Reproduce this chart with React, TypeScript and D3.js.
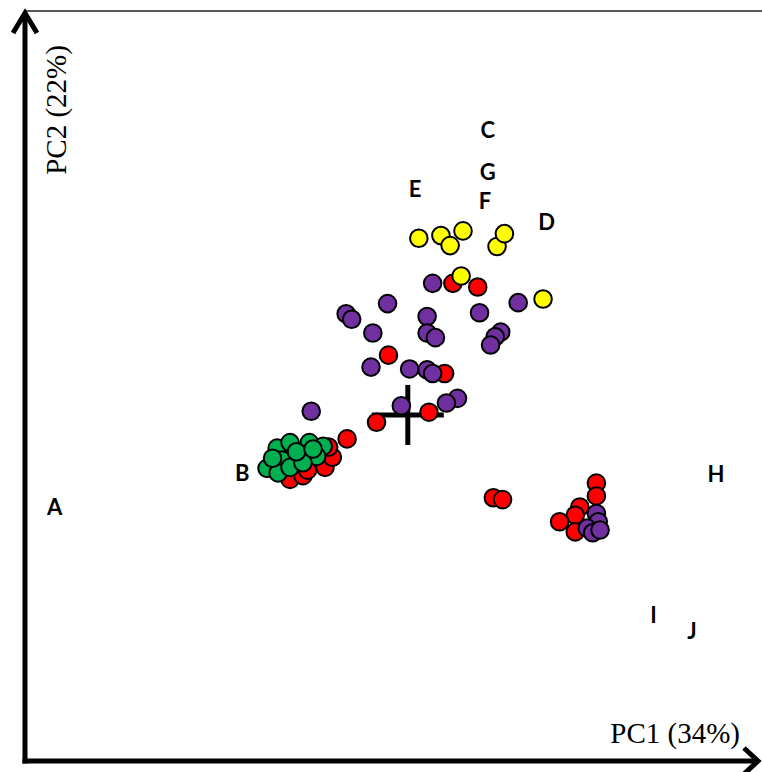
import React, { useEffect, useRef } from "react";
import * as d3 from "d3";

// PCA scores (PC1, PC2) per group
const redPC1 = [0.49, 0.76, -0.21, 0.4, 0.23, -0.34, -0.66, -1.28, -1.14, -0.9, -0.82, -1.09, -0.86, 0.93, 1.03, 2.05, 2.05, 1.87, 1.82, 1.65, 1.82];
const redPC2 = [1.43, 1.39, 0.65, 0.45, 0.03, -0.08, -0.26, -0.7, -0.66, -0.57, -0.46, -0.6, -0.35, -0.9, -0.92, -0.74, -0.88, -1.0, -1.09, -1.16, -1.27];

const purplePC1 = [0.27, 1.2, 0.78, -0.22, -0.67, -0.61, 0.21, -0.38, 0.21, 0.3, 1.01, 0.95, 0.9, -0.4, 0.02, 0.21, 0.27, 0.54, 0.42, -0.07, -1.05, 2.05, 2.07, 1.95, 2.01, 2.09];
const purplePC2 = [1.43, 1.22, 1.11, 1.21, 1.1, 1.04, 1.07, 0.89, 0.89, 0.84, 0.9, 0.85, 0.76, 0.52, 0.5, 0.49, 0.45, 0.18, 0.13, 0.1, 0.04, -1.07, -1.16, -1.23, -1.28, -1.25];

const yellowPC1 = [0.12, 0.36, 0.46, 0.6, 0.97, 1.05, 0.58, 1.47];
const yellowPC2 = [1.92, 1.95, 1.84, 2.0, 1.83, 1.97, 1.51, 1.26];

const greenPC1 = [-1.42, -1.28, -1.07, -0.92, -1.53, -1.37, -1.17, -0.99, -1.41, -1.28, -1.14, -1.47, -1.21, -1.03];
const greenPC2 = [-0.36, -0.3, -0.3, -0.34, -0.58, -0.49, -0.51, -0.45, -0.63, -0.57, -0.52, -0.47, -0.4, -0.37];

// variable labels
const varNames = ["A", "B", "C", "G", "F", "E", "D", "H", "I", "J"];
const varPC1 = [-3.84, -1.8, 0.87, 0.87, 0.84, 0.08, 1.51, 3.35, 2.67, 3.09];
const varPC2 = [-1.0, -0.62, 3.1, 2.65, 2.33, 2.46, 2.1, -0.64, -2.17, -2.34];

const groups = [
  { pc1: redPC1, pc2: redPC2, color: "#ff0000" },
  { pc1: purplePC1, pc2: purplePC2, color: "#7030a0" },
  { pc1: yellowPC1, pc2: yellowPC2, color: "#ffff00" },
  { pc1: greenPC1, pc2: greenPC2, color: "#00b050" },
];

const PcaPlot = () => {
  const svgRef = useRef<SVGSVGElement>(null);
  const width = 762;
  const height = 772;

  useEffect(() => {
    const svg = d3.select(svgRef.current);
    svg.selectAll("*").remove();

    const x = d3.scaleLinear().domain([-4.15, 3.85]).range([26, 762]);
    const y = d3.scaleLinear().domain([-3.76, 4.4]).range([761, 10]);

    const x0 = x.range()[0] - 1;
    const yBottom = y.range()[0];
    const yTop = y.range()[1];

    // top frame line
    svg.append("line")
      .attr("x1", x0).attr("x2", width)
      .attr("y1", yTop + 1).attr("y2", yTop + 1)
      .attr("stroke", "#222").attr("stroke-width", 1.5);

    // axes with arrow heads
    const axes = svg.append("g")
      .attr("fill", "none")
      .attr("stroke", "#000")
      .attr("stroke-width", 5);
    axes.append("line")
      .attr("x1", x0).attr("x2", x0)
      .attr("y1", yBottom + 2.5).attr("y2", yTop + 3);
    axes.append("path")
      .attr("d", `M${x0 - 12},${yTop + 23} L${x0},${yTop + 3} L${x0 + 12},${yTop + 23}`);
    axes.append("line")
      .attr("x1", x0 - 2.5).attr("x2", 757)
      .attr("y1", yBottom).attr("y2", yBottom);
    axes.append("path")
      .attr("d", `M744,${yBottom - 13} L758,${yBottom} L744,${yBottom + 13}`);

    // axis titles
    svg.append("text")
      .attr("transform", `translate(56,110) rotate(-90)`)
      .attr("text-anchor", "middle")
      .attr("dominant-baseline", "central")
      .attr("font-family", "Liberation Serif, serif")
      .attr("font-size", 29)
      .text("PC2 (22%)");
    svg.append("text")
      .attr("x", 740).attr("y", 743)
      .attr("text-anchor", "end")
      .attr("font-family", "Liberation Serif, serif")
      .attr("font-size", 29)
      .text("PC1 (34%)");

    // origin cross
    const cross = svg.append("g").attr("stroke", "#000").attr("stroke-width", 5);
    cross.append("line")
      .attr("x1", x(0) - 36).attr("x2", x(0) + 36)
      .attr("y1", y(0)).attr("y2", y(0));
    cross.append("line")
      .attr("x1", x(0)).attr("x2", x(0))
      .attr("y1", y(0) - 30).attr("y2", y(0) + 30);

    // sample points
    groups.forEach(g => {
      svg.append("g")
        .selectAll("circle")
        .data(g.pc1.map((v, i) => [v, g.pc2[i]]))
        .join("circle")
        .attr("cx", d => x(d[0]))
        .attr("cy", d => y(d[1]))
        .attr("r", 8.8)
        .attr("fill", g.color)
        .attr("stroke", "#000")
        .attr("stroke-width", 2);
    });

    // variable labels
    svg.append("g")
      .selectAll("text")
      .data(varNames)
      .join("text")
      .attr("x", (_, i) => x(varPC1[i]))
      .attr("y", (_, i) => y(varPC2[i]))
      .attr("text-anchor", "middle")
      .attr("dominant-baseline", "central")
      .attr("font-family", "Lato, Liberation Sans, sans-serif")
      .attr("font-weight", "bold")
      .attr("font-size", 22)
      .text(d => d);
  }, []);

  return (
    <svg
      ref={svgRef}
      width={width}
      height={height}
      style={{ position: "absolute", left: 0, top: 0, background: "#fff" }}
    />
  );
};

export default function App() {
  return <PcaPlot />;
}
